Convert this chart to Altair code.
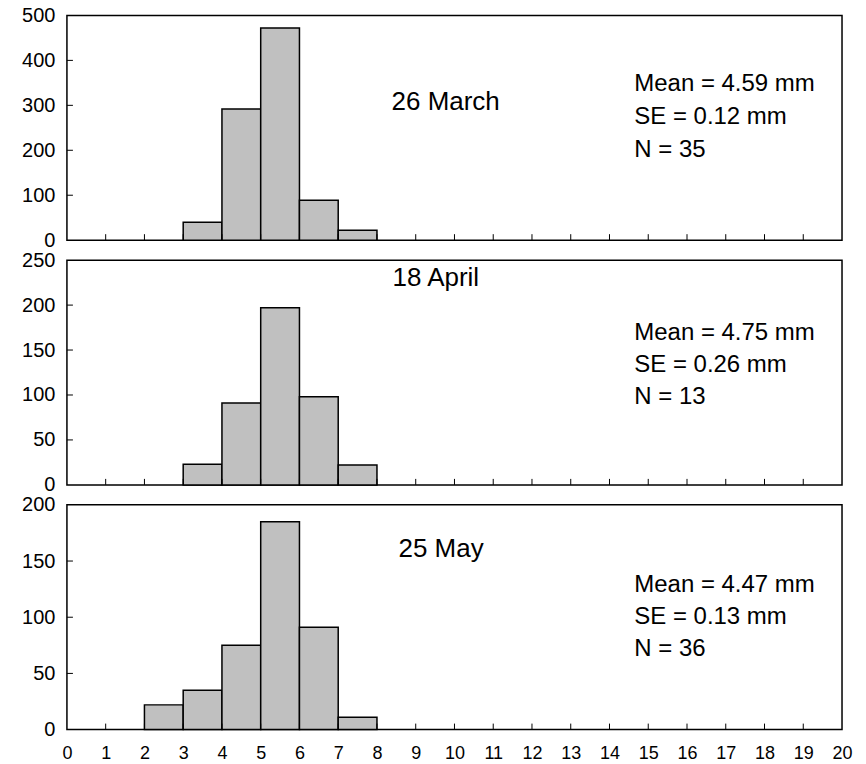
import altair as alt
import pandas as pd

# ---- data ----
x_ticks = list(range(0, 21))

dates = ["26 March", "18 April", "25 May"]
means = ["Mean = 4.59 mm", "Mean = 4.75 mm", "Mean = 4.47 mm"]
ses = ["SE = 0.12 mm", "SE = 0.26 mm", "SE = 0.13 mm"]
ns = ["N = 35", "N = 13", "N = 36"]

march_start = [3, 4, 5, 6, 7]
march_values = [40, 292, 472, 89, 22]
april_start = [3, 4, 5, 6, 7]
april_values = [23, 91, 197, 98, 22]
may_start = [2, 3, 4, 5, 6, 7]
may_values = [22, 35, 75, 185, 91, 11]

y_max = [500, 250, 200]
y_step = [100, 50, 50]

# ---- layout / style ----
W, H = 776, 225
FONT = "Liberation Sans"
DATE_POS = [(325, 95), (326, 26), (332, 52)]
STAT_X = 568
STAT_Y = [(76, 109, 142), (80, 112, 144), (87.6, 119.6, 151.6)]


def txt(s, x, y, size):
    return alt.Chart(pd.DataFrame({"t": [s]})).mark_text(
        align="left", baseline="alphabetic", fontSize=size, font=FONT, color="black"
    ).encode(text="t:N", x=alt.value(x), y=alt.value(y))


def panel(i, starts, values, show_x):
    df = pd.DataFrame({"start": starts, "end": [s + 1 for s in starts], "value": values})
    xs = alt.Scale(domain=[0, 20], nice=False, zero=False)
    ys = alt.Scale(domain=[0, y_max[i]], nice=False)
    yvals = list(range(0, y_max[i] + 1, y_step[i]))
    if show_x:
        xaxis = alt.Axis(values=x_ticks, labelFontSize=18, labelPadding=15, tickSize=0,
                         domain=False, grid=False, labelColor="black", labelFont=FONT,
                         title=None, labelFlush=False, labelOverlap=False)
    else:
        xaxis = None
    yaxis = alt.Axis(values=yvals, labelFontSize=20, labelPadding=12, tickSize=0,
                     domain=False, grid=False, labelColor="black", labelFont=FONT,
                     title=None, minExtent=50, maxExtent=50, labelFlush=False,
                     labelOverlap=False)
    bars = alt.Chart(df).mark_rect(fill="#c0c0c0", stroke="black", strokeWidth=1.5).encode(
        x=alt.X("start:Q", scale=xs, axis=xaxis),
        x2="end:Q",
        y=alt.Y("value:Q", scale=ys, axis=yaxis),
        y2=alt.datum(0),
    )
    xt = alt.Chart(pd.DataFrame({"start": x_ticks[1:-1]})).mark_rule(
        color="black", strokeWidth=1
    ).encode(x=alt.X("start:Q", scale=xs, axis=xaxis), y=alt.value(H), y2=alt.value(H - 6))
    yt = alt.Chart(pd.DataFrame({"value": yvals[1:-1]})).mark_rule(
        color="black", strokeWidth=1
    ).encode(y=alt.Y("value:Q", scale=ys, axis=yaxis), x=alt.value(0), x2=alt.value(6))
    dx, dy = DATE_POS[i]
    sy = STAT_Y[i]
    texts = [
        txt(dates[i], dx, dy, 26),
        txt(means[i], STAT_X, sy[0], 24),
        txt(ses[i], STAT_X, sy[1], 24),
        txt(ns[i], STAT_X, sy[2], 24),
    ]
    return alt.layer(bars, xt, yt, *texts).properties(width=W, height=H)


chart = alt.vconcat(
    panel(0, march_start, march_values, False),
    panel(1, april_start, april_values, False),
    panel(2, may_start, may_values, True),
    spacing=20,
    bounds="flush",
).properties(
    padding={"left": 8, "top": -4, "right": 5, "bottom": 0},
    background="white",
).configure_view(
    stroke="black", strokeWidth=1.5
)

chart.save("out.html", embed_options={"renderer": "svg", "actions": False})
